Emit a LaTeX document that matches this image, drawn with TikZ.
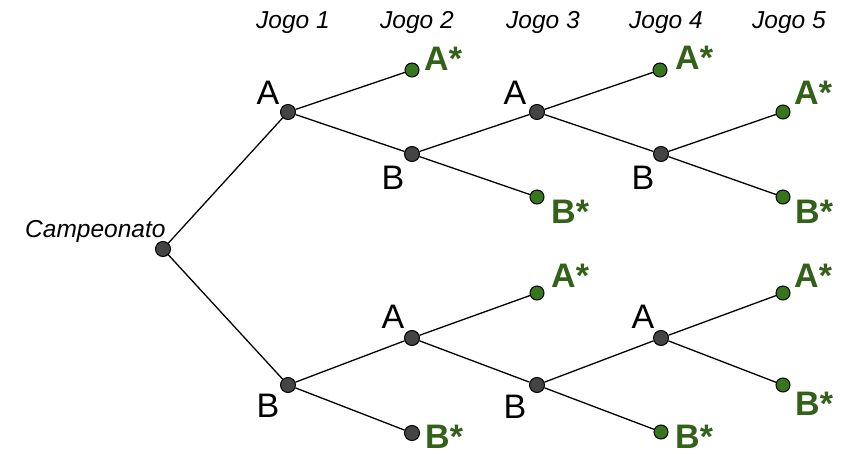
\documentclass[tikz,border=0pt]{standalone}
\usepackage{fontspec}
\setmainfont{Liberation Sans}
\definecolor{dotgray}{RGB}{68,68,68}
\definecolor{dotgreen}{RGB}{56,118,29}
\definecolor{txtgreen}{RGB}{51,97,26}
\begin{document}
\begin{tikzpicture}[x=1pt,y=-1pt,
  dark/.style={circle,draw=black,line width=1pt,fill=dotgray,minimum size=15pt,inner sep=0pt},
  win/.style={circle,draw=black,line width=1pt,fill=dotgreen,minimum size=14pt,inner sep=0pt},
  branch/.style={line width=1.3pt,black},
  lab/.style={anchor=base,inner sep=0pt,font=\fontsize{34}{38}\selectfont},
  wlab/.style={anchor=base west,inner sep=0pt,text=txtgreen,font=\fontsize{34}{38}\selectfont\bfseries},
  head/.style={anchor=base,inner sep=0pt,font=\fontsize{24.5}{28}\selectfont\itshape}]
\useasboundingbox (0,0) rectangle (846,454);
% headers
\node[head] (h1) at (293,29) {Jogo 1};
\node[head] (h2) at (417,29) {Jogo 2};
\node[head] (h3) at (543,29) {Jogo 3};
\node[head] (h4) at (666,29) {Jogo 4};
\node[head] (h5) at (789,29) {Jogo 5};
% nodes
\node[dark] (r) at (163,249) {};
\node[anchor=base west,inner sep=0pt,font=\fontsize{24.5}{28}\selectfont\itshape] (rl) at (25,238) {Campeonato};
\node[dark] (a1) at (288,112) {};
\node[dark] (b1) at (288,385) {};
\node[win] (a1a) at (412,70) {};
\node[dark] (a1b) at (412,154) {};
\node[dark] (a1ba) at (537,112) {};
\node[win] (a1bb) at (537,197) {};
\node[win] (a1baa) at (660,70) {};
\node[dark] (a1bab) at (661,154) {};
\node[win] (a1baba) at (783,112) {};
\node[win] (a1babb) at (783,197) {};
\node[dark] (b1a) at (412,338) {};
\node[dark] (b1b) at (412,433) {};
\node[win] (b1aa) at (537,293) {};
\node[dark] (b1ab) at (537,385) {};
\node[dark] (b1aba) at (661,338) {};
\node[win] (b1abb) at (661,432) {};
\node[win] (b1abaa) at (783,293) {};
\node[win] (b1abab) at (783,385) {};
% branches
\foreach \u/\v in {r/a1,r/b1,a1/a1a,a1/a1b,a1b/a1ba,a1b/a1bb,a1ba/a1baa,a1ba/a1bab,a1bab/a1baba,a1bab/a1babb,b1/b1a,b1/b1b,b1a/b1aa,b1a/b1ab,b1ab/b1aba,b1ab/b1abb,b1aba/b1abaa,b1aba/b1abab}
  \draw[branch] (\u) -- (\v);
% black labels
\node[lab] (la1) at (268,105) {A};
\node[lab] (lb1) at (268,417) {B};
\node[lab] (la1b) at (393,190) {B};
\node[lab] (la1ba) at (515,105) {A};
\node[lab] (la1bab) at (643,190) {B};
\node[lab] (lb1a) at (393,328) {A};
\node[lab] (lb1ab) at (515,418) {B};
\node[lab] (lb1aba) at (643,328) {A};
% green labels
\node[wlab] (wa1) at (424,71) {A*};
\node[wlab] (wa2) at (675,70) {A*};
\node[wlab] (wa3) at (794,105) {A*};
\node[wlab] (wa4) at (551,288) {A*};
\node[wlab] (wa5) at (794,288) {A*};
\node[wlab] (wb1) at (551,224) {B*};
\node[wlab] (wb2) at (795,224) {B*};
\node[wlab] (wb3) at (425,448) {B*};
\node[wlab] (wb4) at (675,448) {B*};
\node[wlab] (wb5) at (795,415) {B*};
\end{tikzpicture}
\end{document}
